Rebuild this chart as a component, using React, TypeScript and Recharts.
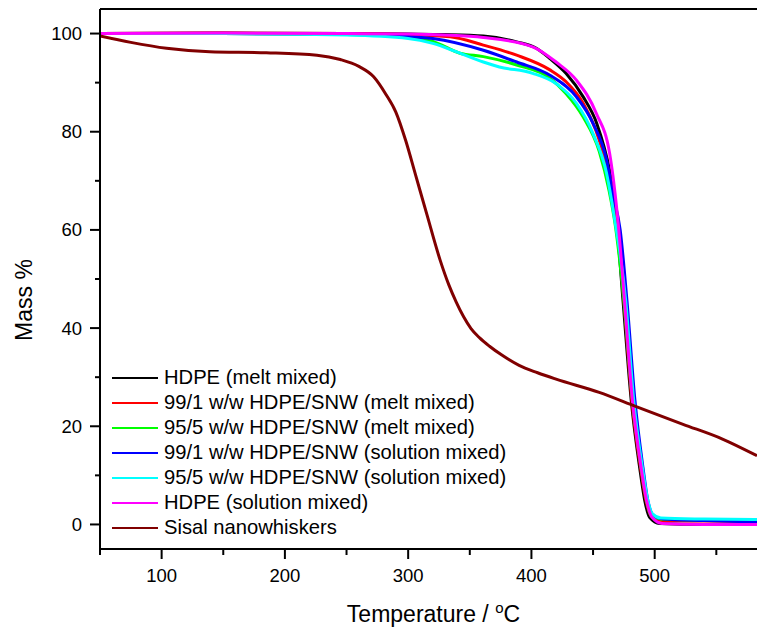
import { LineChart, Line, XAxis, YAxis, Legend, ReferenceLine } from 'recharts'

const FONT = '"Liberation Sans", Arial, Helvetica, sans-serif'

// temperature (°C) / mass (%) pairs
const hdpeMeltT = [50, 150, 250, 300, 330, 361, 388, 404, 415, 428, 442, 453, 463.5, 467.5, 474.3, 481, 487.8, 492, 496, 504, 540, 583]
const hdpeMeltM = [100, 100.1, 100, 99.9, 99.8, 99.5, 98.3, 97.0, 94.9, 91.9, 87.1, 81.7, 72, 66, 45.6, 25.2, 11.6, 4.8, 1.4, 0.2, 0.0, 0.0]

const snw1MeltT = [50, 150, 250, 300, 334, 361, 388, 415, 428, 442, 455, 465, 470, 475, 481.5, 488.5, 493, 497.5, 506, 540, 583]
const snw1MeltM = [100, 100.1, 100, 99.8, 99.35, 97.65, 95.6, 92.6, 90.2, 85.8, 78.3, 68.7, 60, 45.6, 25.2, 11.6, 4.8, 1.6, 0.8, 0.7, 0.6]

const snw5MeltT = [50, 150, 250, 300, 320, 342, 361, 388, 415, 428, 442, 455, 463, 468, 475, 482, 489, 493.5, 497, 505, 540, 583]
const snw5MeltM = [100, 100, 99.8, 99.3, 98.4, 96.0, 95.3, 93.6, 90.9, 87.8, 83.0, 76, 68, 61, 45.6, 25.2, 11.6, 4.8, 1.8, 1.1, 0.9, 0.8]

const snw1SolT = [50, 150, 250, 290, 320, 361, 388, 415, 436.5, 450, 461, 466, 472, 477.5, 484, 490.5, 494.5, 499, 507, 540, 583]
const snw1SolM = [100, 100, 99.9, 99.5, 99.0, 96.6, 94.2, 91.5, 87.1, 81.7, 74.2, 67.4, 60, 45.6, 25.2, 11.6, 4.8, 1.8, 1.1, 0.8, 0.5]

const snw5SolT = [50, 150, 250, 300, 320, 342, 361, 374, 401, 420, 436.5, 450, 461, 467, 476.5, 483, 490, 494.5, 498, 505, 540, 583]
const snw5SolM = [100, 100, 99.7, 99.0, 98.0, 96.0, 94.2, 93.2, 91.9, 89.8, 85.8, 79.6, 71.5, 63, 45.6, 25.2, 11.6, 4.8, 2.2, 1.3, 1.1, 1.0]

const hdpeSolT = [50, 150, 250, 300, 330, 361, 401, 420, 436.5, 452.7, 463.5, 470.5, 475.5, 482, 489, 493.5, 498, 506, 540, 583]
const hdpeSolM = [100, 100.1, 100, 99.9, 99.7, 99.2, 97.3, 94.2, 90.5, 83.7, 75.5, 61, 45.6, 25.2, 11.6, 4.8, 1.4, 0.2, 0.0, 0.0]

const sisalT = [50, 75, 104, 139, 185, 226, 245, 260, 272, 282, 290, 298, 306, 315, 326, 333, 339, 345, 351, 358, 366, 376, 390, 405, 420, 455, 485, 523, 555, 583]
const sisalM = [99.5, 98.2, 97.0, 96.3, 96.1, 95.6, 94.7, 93.3, 91.2, 87.6, 84.0, 78.2, 71.2, 63.3, 53.8, 48.8, 45.3, 42.3, 39.9, 38.0, 36.3, 34.5, 32.4, 30.9, 29.6, 26.9, 24.0, 20.4, 17.4, 14.0]

const X_TICKS = [50, 100, 150, 200, 250, 300, 350, 400, 450, 500, 550]
const Y_TICKS = [0, 10, 20, 30, 40, 50, 60, 70, 80, 90, 100]

const toPoints = (t: number[], m: number[]) => t.map((v, i) => ({ t: v, m: m[i] }))

const series = [
  { name: 'HDPE (melt mixed)', color: '#000000', data: toPoints(hdpeMeltT, hdpeMeltM) },
  { name: '99/1 w/w HDPE/SNW (melt mixed)', color: '#ff0000', data: toPoints(snw1MeltT, snw1MeltM) },
  { name: '95/5 w/w HDPE/SNW (melt mixed)', color: '#00ff00', data: toPoints(snw5MeltT, snw5MeltM) },
  { name: '99/1 w/w HDPE/SNW (solution mixed)', color: '#0000ff', data: toPoints(snw1SolT, snw1SolM) },
  { name: '95/5 w/w HDPE/SNW (solution mixed)', color: '#00ffff', data: toPoints(snw5SolT, snw5SolM) },
  { name: 'HDPE (solution mixed)', color: '#ff00ff', data: toPoints(hdpeSolT, hdpeSolM) },
  { name: 'Sisal nanowhiskers', color: '#800000', data: toPoints(sisalT, sisalM) },
]

const XTick = ({ x, y, payload }: any) => {
  const major = payload.value % 100 === 0
  return (
    <g>
      <line x1={x} x2={x} y1={y} y2={y + (major ? 10 : 6)} stroke="#000" strokeWidth={2} />
      {major && (
        <text x={x} y={y + 33} textAnchor="middle" fontSize={18.5} fontFamily={FONT} fill="#000">
          {payload.value}
        </text>
      )}
    </g>
  )
}

const TopTick = ({ x, y }: any) => (
  <line x1={x} x2={x} y1={y} y2={y + 3} stroke="#000" strokeWidth={1.5} />
)

const YTick = ({ x, y, payload }: any) => {
  const major = payload.value % 20 === 0
  return (
    <g>
      <line x1={x - (major ? 10 : 5)} x2={x} y1={y} y2={y} stroke="#000" strokeWidth={2} />
      {major && (
        <text x={x - 18} y={y} dy="0.35em" textAnchor="end" fontSize={18.5} fontFamily={FONT} fill="#000">
          {payload.value}
        </text>
      )}
    </g>
  )
}

const XTitle = ({ viewBox }: any) => (
  <text x={viewBox.x + viewBox.width / 2 + 5} y={viewBox.y + 73} textAnchor="middle" fontSize={23} fontFamily={FONT} fill="#000">
    Temperature / <tspan dy={-9} fontSize={15}>o</tspan><tspan dy={9}>C</tspan>
  </text>
)

const YTitle = () => (
  <text transform="translate(32,300) rotate(-90)" textAnchor="middle" fontSize={23} fontFamily={FONT} fill="#000">
    Mass %
  </text>
)

const LegendBox = () => (
  <div style={{ fontFamily: FONT, fontSize: 20.2, color: '#000' }}>
    {series.map(s => (
      <div key={s.name} style={{ display: 'flex', alignItems: 'center', height: 25, whiteSpace: 'nowrap' }}>
        <span style={{ display: 'inline-block', width: 46, height: 0, borderTop: `2.5px solid ${s.color}`, marginRight: 6 }} />
        {s.name}
      </div>
    ))}
  </div>
)

export default function App() {
  return (
    <div style={{ position: 'absolute', left: 0, top: 0, width: 757, height: 632, background: '#fff', overflow: 'hidden' }}>
      <LineChart width={757} height={632} margin={{ top: 9, right: 0, bottom: 43, left: 40 }}>
        <XAxis
          type="number"
          dataKey="t"
          domain={[50, 583]}
          allowDataOverflow
          ticks={X_TICKS}
          interval={0}
          height={40}
          tickSize={0}
          tickMargin={0}
          tickLine={false}
          axisLine={{ stroke: '#000', strokeWidth: 2 }}
          tick={<XTick />}
          label={<XTitle />}
        />
        <XAxis
          xAxisId="top"
          orientation="top"
          type="number"
          domain={[50, 583]}
          allowDataOverflow
          ticks={X_TICKS}
          interval={0}
          height={0}
          tickSize={0}
          tickMargin={0}
          tickLine={false}
          axisLine={false}
          tick={<TopTick />}
        />
        <YAxis
          type="number"
          dataKey="m"
          domain={[-5, 105]}
          allowDataOverflow
          ticks={Y_TICKS}
          interval={0}
          width={60}
          tickSize={0}
          tickMargin={0}
          tickLine={false}
          axisLine={{ stroke: '#000', strokeWidth: 2 }}
          tick={<YTick />}
          label={<YTitle />}
        />
        <ReferenceLine y={105} stroke="#000" strokeWidth={2} />
        {series.map(s => (
          <Line
            key={s.name}
            data={s.data}
            dataKey="m"
            name={s.name}
            type="monotone"
            stroke={s.color}
            strokeWidth={3}
            dot={false}
            activeDot={false}
            isAnimationActive={false}
          />
        ))}
        <Legend
          layout="vertical"
          align="center"
          verticalAlign="middle"
          content={<LegendBox />}
          wrapperStyle={{ left: 112, top: 365, width: 420 }}
        />
      </LineChart>
    </div>
  )
}
